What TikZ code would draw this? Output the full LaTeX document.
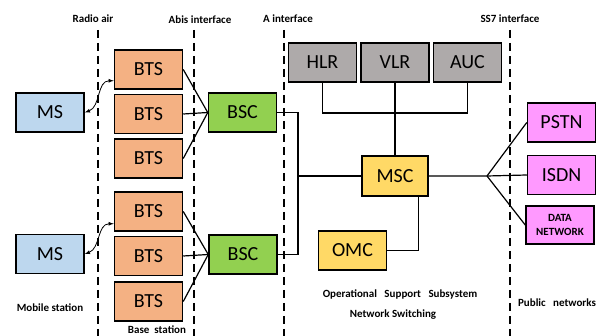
\documentclass[tikz,border=0pt]{standalone}
\usepackage{fontspec}
\setmainfont{Carlito}
\usepackage{tikz}
\usetikzlibrary{positioning}

\definecolor{msblue}{HTML}{BDD7EE}
\definecolor{btsorange}{HTML}{F4B183}
\definecolor{bscgreen}{HTML}{92D050}
\definecolor{regray}{HTML}{AEAAAA}
\definecolor{mscyellow}{HTML}{FFD966}
\definecolor{netpink}{HTML}{FF99FF}

\begin{document}
\begin{tikzpicture}[x=1pt, y=-1pt,
        box/.style={draw, line width=1.5pt, minimum width=68pt, minimum height=39pt, inner sep=0pt, font=\fontsize{20}{24}\selectfont},
        lbl/.style={font=\bfseries\fontsize{11}{13}\selectfont},
        sep/.style={line width=1.3pt, dash pattern=on 8pt off 5pt},
        wire/.style={line width=1.2pt},
        air/.style={line width=0.8pt, latex-latex}]
        \useasboundingbox (0,0) rectangle (605,336);

        % interfaces
        \node [lbl] (radio) at (93,19) {Radio air};
        \node [lbl] (abis) at (200,20) {Abis interface};
        \node [lbl] (aif) at (288,19) {A interface};
        \node [lbl] (ss7) at (510,19) {SS7 interface};
        \draw [sep] (98,30) -- (98,336);
        \draw [sep] (194,30) -- (194,336);
        \draw [sep] (284,30) -- (284,336);
        \draw [sep] (510,30) -- (510,336);

        % mobile stations
        \node [box, fill=msblue] (ms1) at (50,112.5) {MS};
        \node [box, fill=msblue] (ms2) at (50,254) {MS};

        % base stations
        \node [box, fill=btsorange] (bts1) at (148.5,69.5) {BTS};
        \node [box, fill=btsorange, below=4pt of bts1] (bts2) {BTS};
        \node [box, fill=btsorange, below=4pt of bts2] (bts3) {BTS};
        \node [box, fill=btsorange] (bts4) at (148.5,211.5) {BTS};
        \node [box, fill=btsorange, below=4pt of bts4] (bts5) {BTS};
        \node [box, fill=btsorange, below=5pt of bts5] (bts6) {BTS};
        \node [box, fill=bscgreen] (bsc1) at (242.5,112.5) {BSC};
        \node [box, fill=bscgreen] (bsc2) at (243,254.5) {BSC};

        % switching
        \node [box, fill=regray] (vlr) at (395,62.5) {VLR};
        \node [box, fill=regray, left=3pt of vlr] (hlr) {HLR};
        \node [box, fill=regray, right=3pt of vlr] (auc) {AUC};
        \node [box, fill=mscyellow, minimum width=66pt, minimum height=40pt] (msc) at (395,176) {MSC};
        \node [box, fill=mscyellow] (omc) at (352.5,250.5) {OMC};

        % public networks
        \node [box, fill=netpink] (pstn) at (561.5,122.5) {PSTN};
        \node [box, fill=netpink] (isdn) at (561.5,175) {ISDN};
        \node [box, fill=netpink, minimum height=38pt, align=center, font=\bfseries\fontsize{11}{14}\selectfont] (data) at (560,225) {DATA\\NETWORK};

        \coordinate (ja) at (298,176);
        \coordinate (jb) at (395,113);
        \coordinate (jc) at (487,176);

        \draw [air] (ms1.east) to [out=20, in=180] ([yshift=9pt]bts1.south west);
        \draw [air] (ms2.east) to [out=20, in=180] ([yshift=8pt]bts4.south west);

        \draw [wire] (bts1.east) -- (bsc1.west);
        \draw [wire] (bts2.east) -- (bsc1.west);
        \draw [wire] (bts3.east) -- (bsc1.west);
        \draw [wire] (bts4.east) -- (bsc2.west);
        \draw [wire] (bts5.east) -- (bsc2.west);
        \draw [wire] (bts6.east) -- (bsc2.west);

        \draw [wire] (bsc1.east) -| (ja) |- (bsc2.east);
        \draw [wire] (ja) -- (msc.west);
        \draw [wire] (hlr.south) |- (jb) -| (auc.south);
        \draw [wire] (vlr.south) -- (msc.north);
        \draw [wire] (omc.east) -| ([xshift=-10pt]msc.south east);
        \draw [wire] (msc.east) -- (jc) -- (isdn.west);
        \draw [wire] (jc) -- (pstn.west);
        \draw [wire] (jc) -- (data.west);

        % captions
        \node [lbl] (mobcap) at (50,308) {Mobile station};
        \node [lbl, anchor=base] (bascap) at (157,333.5) {Base~~station};
        \node [lbl] (osscap) at (400,294) {Operational~~~Support~~~Subsystem};
        \node [lbl] (nsscap) at (393,315) {Network Switching};
        \node [lbl] (pubcap) at (557,303) {Public~~~networks};
    \end{tikzpicture}
\end{document}
